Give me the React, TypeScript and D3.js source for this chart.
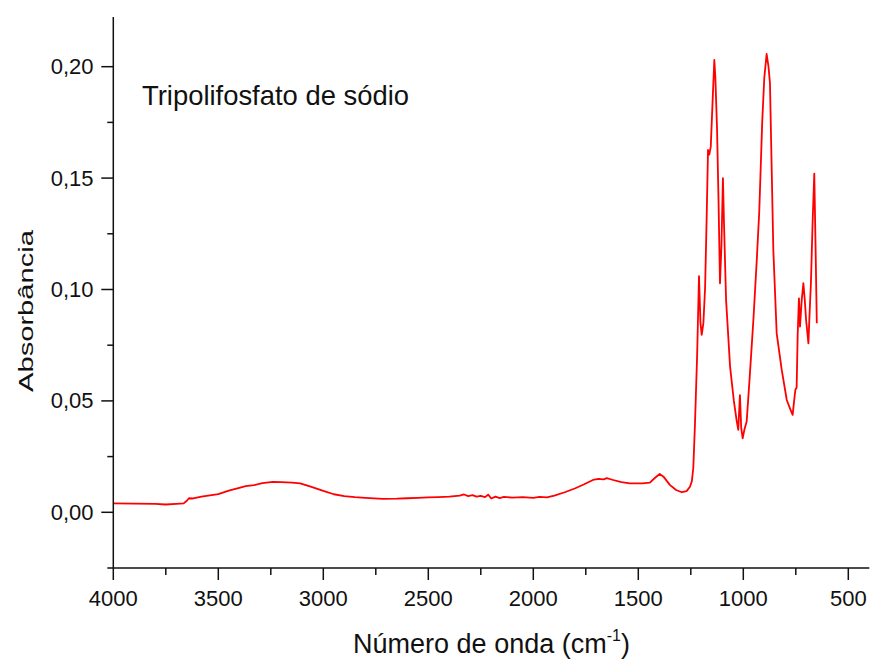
import React from "react";
import * as d3 from "d3";

const wavenumbers = [
  4000, 3900, 3800, 3750, 3700, 3665, 3650, 3640, 3620, 3580, 3500, 3450, 3400, 3370, 3330, 3290, 3240, 3200, 3150, 3110,
  3060, 3000, 2950, 2900, 2850, 2800, 2716, 2650, 2600, 2550, 2500, 2450, 2400, 2350, 2330, 2310, 2290, 2270, 2250, 2230,
  2215, 2200, 2180, 2160, 2140, 2100, 2050, 2000, 1970, 1935, 1900, 1850, 1800, 1760, 1716, 1690, 1665, 1650, 1620, 1580,
  1540, 1480, 1445, 1420, 1398, 1380, 1350, 1320, 1293, 1270, 1254, 1245, 1238, 1230, 1220, 1211, 1204, 1198, 1190, 1182,
  1175, 1168, 1162, 1155, 1146, 1138, 1133, 1125, 1118, 1111, 1104, 1097, 1092, 1082, 1063, 1045, 1032, 1024, 1016, 1010,
  1003, 995, 984, 970, 952, 936, 924, 910, 900, 889, 880, 873, 865, 857, 841, 817, 793, 775, 765, 758,
  752, 746, 741, 735, 730, 722, 714, 707, 701, 690, 684, 678, 670, 662, 656, 650,
];
const absorbance = [
  0.004, 0.0039, 0.0038, 0.0035, 0.0038, 0.004, 0.0052, 0.0063, 0.0062, 0.007, 0.0082, 0.0097, 0.011, 0.0117, 0.0122, 0.0131, 0.0137, 0.0135, 0.0133, 0.013,
  0.0115, 0.0096, 0.0081, 0.0073, 0.0068, 0.0065, 0.006, 0.0061, 0.0063, 0.0065, 0.0067, 0.0068, 0.007, 0.0075, 0.008, 0.0073, 0.0077, 0.007, 0.0074, 0.0068,
  0.0079, 0.0062, 0.007, 0.0064, 0.0069, 0.0066, 0.0068, 0.0065, 0.0069, 0.0067, 0.0075, 0.009, 0.0108, 0.0125, 0.0145, 0.015, 0.0148, 0.0153, 0.0145, 0.0135,
  0.013, 0.013, 0.0133, 0.0155, 0.0172, 0.016, 0.0123, 0.01, 0.009, 0.0095, 0.0115, 0.014, 0.02, 0.04, 0.07, 0.106, 0.085, 0.0796, 0.085, 0.1007,
  0.13, 0.1626, 0.1605, 0.164, 0.185, 0.203, 0.195, 0.172, 0.14, 0.1028, 0.12, 0.15, 0.13, 0.0953, 0.0654, 0.05, 0.0414, 0.037, 0.0526, 0.038,
  0.0332, 0.037, 0.0407, 0.06, 0.0863, 0.113, 0.135, 0.175, 0.195, 0.2057, 0.2, 0.1925, 0.155, 0.1177, 0.0803, 0.0639, 0.0504, 0.046, 0.0437, 0.05,
  0.055, 0.056, 0.08, 0.096, 0.0833, 0.095, 0.1028, 0.095, 0.0863, 0.0758, 0.09, 0.1028, 0.13, 0.152, 0.12, 0.0848,
];

const xMajorTicks = [4000, 3500, 3000, 2500, 2000, 1500, 1000, 500];
const xMinorTicks = [3750, 3250, 2750, 2250, 1750, 1250, 750];
const yMajorTicks = [0, 0.05, 0.1, 0.15, 0.2];
const yMinorTicks = [-0.025, 0.025, 0.075, 0.125, 0.175];

const W = 871;
const H = 660;
const left = 113.3;
const right = 869.3;
const top = 17;
const bottom = 568;

export default function App() {
  const x = d3.scaleLinear().domain([4000, 400]).range([left, right]);
  const y = d3.scaleLinear().domain([-0.025, 0.2223]).range([bottom, top]);
  const pts: [number, number][] = wavenumbers.map((w, i) => [w, absorbance[i]]);
  const line = d3
    .line<[number, number]>()
    .x((d) => x(d[0]))
    .y((d) => y(d[1]));
  const fmt = (v: number) => v.toFixed(2).replace(".", ",");
  const font = "'Liberation Sans', Arial, sans-serif";
  const axisColor = "#111";
  return (
    <svg
      width={W}
      height={H}
      style={{ position: "absolute", left: 0, top: 0, background: "#fff" }}
      fontFamily={font}
    >
      <path d={line(pts) || ""} fill="none" stroke="#ff0000" strokeWidth={1.8} strokeLinejoin="round" />
      <line x1={left} x2={left} y1={top} y2={bottom} stroke={axisColor} strokeWidth={1.5} />
      <line x1={left} x2={right} y1={bottom} y2={bottom} stroke={axisColor} strokeWidth={1.5} />
      {xMajorTicks.map((t) => (
        <g key={"xm" + t}>
          <line x1={x(t)} x2={x(t)} y1={bottom} y2={bottom + 12} stroke={axisColor} strokeWidth={1.5} />
          <text x={x(t)} y={606} textAnchor="middle" fontSize={22} fill="#111">
            {t}
          </text>
        </g>
      ))}
      {xMinorTicks.map((t) => (
        <line key={"xn" + t} x1={x(t)} x2={x(t)} y1={bottom} y2={bottom + 7} stroke={axisColor} strokeWidth={1.5} />
      ))}
      {yMajorTicks.map((t) => (
        <g key={"ym" + t}>
          <line x1={left - 12} x2={left} y1={y(t)} y2={y(t)} stroke={axisColor} strokeWidth={1.5} />
          <text x={93.5} y={y(t) + 7.5} textAnchor="end" fontSize={22} fill="#111">
            {fmt(t)}
          </text>
        </g>
      ))}
      {yMinorTicks.map((t) => (
        <line key={"yn" + t} x1={left - 6} x2={left} y1={y(t)} y2={y(t)} stroke={axisColor} strokeWidth={1.5} />
      ))}
      <text x={142} y={105} fontSize={27.4} fill="#111">
        Tripolifosfato de sódio
      </text>
      <text x={491.5} y={653} textAnchor="middle" fontSize={27} fill="#111">
        Número de onda (cm<tspan fontSize={16} dy={-12}>-1</tspan>
        <tspan dy={12}>)</tspan>
      </text>
      <text
        transform="translate(33,311) rotate(-90)"
        textAnchor="middle"
        fontSize={21}
        textLength={162}
        lengthAdjust="spacingAndGlyphs"
        fill="#111"
      >
        Absorbância
      </text>
    </svg>
  );
}
